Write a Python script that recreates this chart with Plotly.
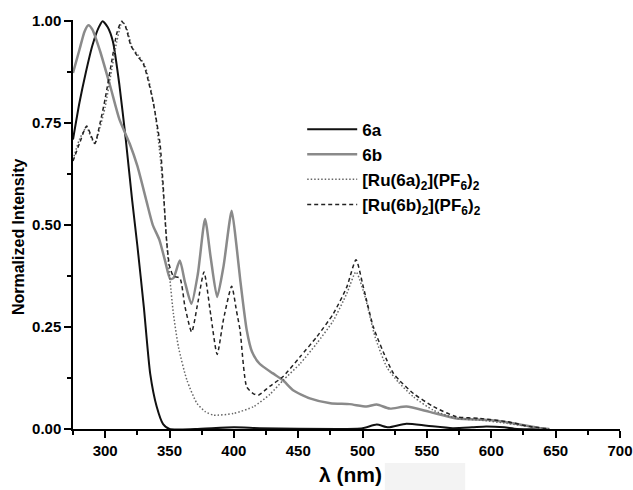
import plotly.graph_objects as go

# ---------------- data ----------------
wl_6a = [275, 280, 285, 290, 295, 298, 302, 306, 311, 316, 321, 325, 330, 335, 340, 345, 350,
         370, 400, 420, 480, 500, 511, 520, 534, 550, 570, 585, 596, 610, 620, 645]
int_6a = [0.71, 0.80, 0.875, 0.94, 0.985, 1.0, 0.985, 0.95, 0.845, 0.71, 0.56, 0.45, 0.30, 0.135, 0.055, 0.012, 0.0,
          0.0, 0.004, 0.002, 0.0, 0.002, 0.011, 0.004, 0.013, 0.008, 0.002, 0.004, 0.006, 0.004, 0.0, 0.0]

wl_6b = [275, 280, 284, 287, 290, 296, 304, 311, 319, 325, 332, 337, 342, 346.5, 350.5, 353, 358, 362, 367,
         372, 377.6, 382, 387, 392, 398.3, 402, 405, 410, 414, 420, 430, 438, 446, 459, 475, 490, 503, 511,
         521, 534, 552, 573, 599, 617, 638, 645]
int_6b = [0.873, 0.93, 0.975, 0.99, 0.98, 0.927, 0.84, 0.76, 0.70, 0.645, 0.56, 0.50, 0.465, 0.413, 0.368, 0.37,
          0.413, 0.36, 0.307, 0.38, 0.515, 0.42, 0.324, 0.40, 0.535, 0.45, 0.364, 0.242, 0.19, 0.16, 0.137, 0.12,
          0.095, 0.075, 0.063, 0.061, 0.055, 0.06, 0.05, 0.055, 0.042, 0.026, 0.022, 0.014, 0.002, 0.0]

wl_ru6a = [275, 280, 285.6, 289, 292, 296, 300, 305, 309, 312, 313.5, 317, 321, 326, 331, 335, 339, 343, 346.5,
           348.5, 350.4, 353, 357, 363.5, 371.3, 378, 384.2, 399.7, 415.3, 428, 438.4, 451.4, 464.4, 477.3,
           487.7, 494.9, 502, 509.7, 518.8, 527.8, 539.5, 555, 573, 591, 612, 630, 645]
int_ru6a = [0.66, 0.71, 0.74, 0.715, 0.70, 0.74, 0.79, 0.88, 0.95, 0.99, 1.0, 0.98, 0.935, 0.915, 0.89, 0.84, 0.77,
            0.66, 0.52, 0.43, 0.364, 0.283, 0.20, 0.12, 0.063, 0.042, 0.034, 0.038, 0.055, 0.085, 0.12, 0.16, 0.21,
            0.266, 0.332, 0.385, 0.323, 0.226, 0.152, 0.115, 0.079, 0.046, 0.026, 0.022, 0.014, 0.006, 0.0]

wl_ru6b = [275, 280, 285.6, 289, 292, 296, 300, 305, 309, 312.8, 316, 320, 325, 329.7, 333, 337.4, 342.6, 345,
           347.5, 350, 353, 358, 362, 367.2, 372, 376.8, 382, 387, 392, 398.3, 402, 404.8, 410, 415, 419, 428,
           438, 451.4, 464.4, 477.3, 487.7, 494.9, 500.6, 508.4, 518.8, 524, 529, 539.5, 555, 573, 591, 612,
           630, 645]
int_ru6b = [0.657, 0.70, 0.743, 0.72, 0.70, 0.75, 0.81, 0.90, 0.97, 1.0, 0.985, 0.94, 0.915, 0.895, 0.86, 0.80,
            0.70, 0.60, 0.47, 0.40, 0.375, 0.37, 0.30, 0.238, 0.31, 0.385, 0.28, 0.183, 0.27, 0.35, 0.29, 0.242,
            0.103, 0.087, 0.083, 0.105, 0.128, 0.177, 0.226, 0.283, 0.348, 0.415, 0.348, 0.25, 0.169, 0.136,
            0.118, 0.087, 0.055, 0.03, 0.026, 0.018, 0.006, 0.0]

x_ticks = [300, 350, 400, 450, 500, 550, 600, 650, 700]
y_ticks = [0.0, 0.25, 0.50, 0.75, 1.00]
y_tick_labels = ["0.00", "0.25", "0.50", "0.75", "1.00"]

names = ["6a", "6b", "[Ru(6a)<sub>2</sub>](PF<sub>6</sub>)<sub>2</sub>",
         "[Ru(6b)<sub>2</sub>](PF<sub>6</sub>)<sub>2</sub>"]

# ---------------- figure ----------------
FONT = "Arial, 'Liberation Sans', sans-serif"
fig = go.Figure()

fig.add_trace(go.Scatter(x=wl_6a, y=int_6a, mode="lines", name=names[0],
                         line=dict(color="#111111", width=2, shape="spline", smoothing=0.6)))
fig.add_trace(go.Scatter(x=wl_6b, y=int_6b, mode="lines", name=names[1],
                         line=dict(color="#8a8a8a", width=2.5, shape="spline", smoothing=0.6)))
fig.add_trace(go.Scatter(x=wl_ru6a, y=int_ru6a, mode="lines", name=names[2],
                         line=dict(color="#666666", width=1.5, dash="1.5px,2px", shape="spline", smoothing=0.6)))
fig.add_trace(go.Scatter(x=wl_ru6b, y=int_ru6b, mode="lines", name=names[3],
                         line=dict(color="#222222", width=1.5, dash="4px,3px", shape="spline", smoothing=0.6)))

fig.update_layout(
    width=633, height=490,
    margin=dict(l=73, r=13, t=20, b=61, autoexpand=False),
    paper_bgcolor="white", plot_bgcolor="white",
    font=dict(family=FONT, color="black"),
    showlegend=True,
    legend=dict(x=0.419, y=0.776, xanchor="left", yanchor="top", itemwidth=50,
                font=dict(family=FONT, size=17, weight="bold", color="black"),
                bgcolor="rgba(0,0,0,0)", borderwidth=0, tracegroupgap=0),
    xaxis=dict(range=[275, 700], tickvals=x_ticks, ticks="outside", ticklen=7, tickwidth=1.5,
               tickcolor="black", showline=True, linecolor="black", linewidth=1.5,
               showgrid=False, zeroline=False, automargin=False,
               tickfont=dict(family=FONT, size=15, weight="bold"),
               minor=dict(tick0=275, dtick=25, ticks="outside", ticklen=4, tickwidth=1.5, tickcolor="black",
                          showgrid=False)),
    yaxis=dict(range=[0, 1.003], tickvals=y_ticks, ticktext=y_tick_labels, ticks="outside", ticklen=7,
               tickwidth=1.5, tickcolor="black", showline=True, linecolor="black", linewidth=1.5,
               showgrid=False, zeroline=False, automargin=False,
               tickfont=dict(family=FONT, size=15, weight="bold"),
               minor=dict(tick0=0, dtick=0.125, ticks="outside", ticklen=4, tickwidth=1.5, tickcolor="black",
                          showgrid=False)),
    annotations=[
        dict(text="Normalized Intensity", textangle=-90, xref="paper", yref="paper",
             x=-0.10, y=0.47, xanchor="center", yanchor="middle", showarrow=False,
             font=dict(family=FONT, size=16, weight="bold")),
        dict(text="λ (nm)", xref="paper", yref="paper", x=0.507, y=-0.112,
             xanchor="center", yanchor="middle", showarrow=False,
             font=dict(family=FONT, size=21, weight="bold")),
    ],
    shapes=[
        dict(type="rect", xref="paper", yref="paper", x0=0.570, x1=0.717, y0=-0.149, y1=-0.083,
             fillcolor="#f3f3f3", line=dict(width=0), layer="below"),
    ],
)

fig.write_html("out.html", config={"displayModeBar": False},
               post_script="document.body.style.margin='0';document.body.style.overflow='hidden';")
